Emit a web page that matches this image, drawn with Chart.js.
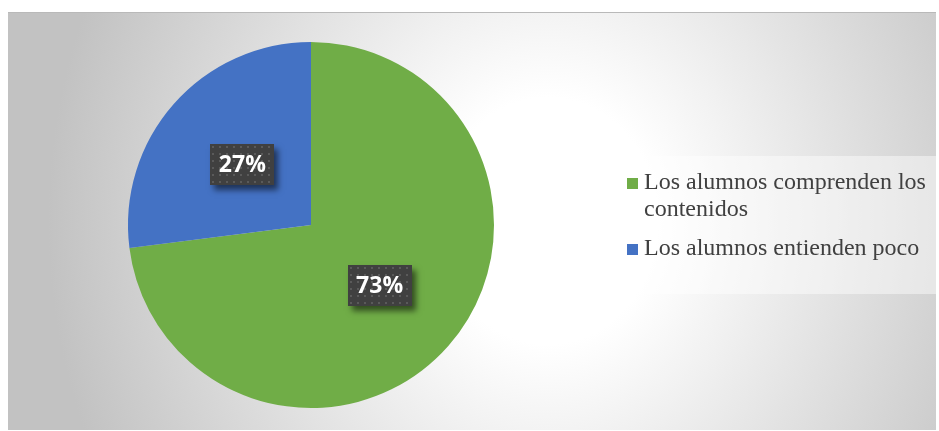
<!DOCTYPE html>
<html>
<head>
<meta charset="utf-8">
<script src="https://cdn.jsdelivr.net/npm/chart.js@4/dist/chart.umd.min.js"></script>
<style>
  html, body { margin: 0; padding: 0; background: #ffffff; }
  #wrap { position: relative; width: 939px; height: 431px; overflow: hidden; }
  #bg {
    position: absolute; left: 8px; top: 12px; width: 928px; height: 417px;
    border-top: 1px solid #b9b9b9;
    background: radial-gradient(ellipse 500px 560px at 540px 208px, #ffffff 0%, #ffffff 22%, #c2c2c2 100%);
  }
  #c { position: absolute; left: 0; top: 0; }
  #legend {
    position: absolute; left: 615px; top: 156px; width: 321px; height: 138px;
    background: rgba(255,255,255,0.45);
    font-family: "Liberation Serif", "Times New Roman", serif;
    font-size: 24px; color: #404040; box-sizing: border-box; padding: 12px 0 0 12px;
  }
  .item { position: relative; padding-left: 17px; line-height: 27px; margin-bottom: 12px; white-space: nowrap; }
  .sw { position: absolute; left: 0; top: 10px; width: 11px; height: 11px; }
</style>
</head>
<body>
<div id="wrap">
  <div id="bg"></div>
  <canvas id="c" width="939" height="431"></canvas>
  <div id="legend"></div>
</div>
<script>
const categories = ["Los alumnos comprenden los contenidos", "Los alumnos entienden poco"];
const legendLines = [["Los alumnos comprenden los", "contenidos"], ["Los alumnos entienden poco"]];
const values = [73, 27];
const valueLabels = ["73%", "27%"];
const colors = ["#70ad47", "#4472c4"];

// legend (HTML text)
const leg = document.getElementById('legend');
legendLines.forEach((lines, i) => {
  const d = document.createElement('div');
  d.className = 'item';
  const s = document.createElement('span');
  s.className = 'sw';
  s.style.background = colors[i];
  d.appendChild(s);
  lines.forEach((t, k) => {
    if (k > 0) d.appendChild(document.createElement('br'));
    d.appendChild(document.createTextNode(t));
  });
  leg.appendChild(d);
});

// dotted pattern for label boxes
function makePattern(ctx) {
  const p = document.createElement('canvas');
  p.width = 7; p.height = 7;
  const pc = p.getContext('2d');
  pc.fillStyle = '#404040';
  pc.fillRect(0, 0, 7, 7);
  pc.fillStyle = '#5a5a5a';
  pc.fillRect(2, 2, 2, 2);
  return ctx.createPattern(p, 'repeat');
}

const labelPlugin = {
  id: 'boxLabels',
  afterDatasetsDraw(chart) {
    const ctx = chart.ctx;
    const meta = chart.getDatasetMeta(0);
    const pat = makePattern(ctx);
    meta.data.forEach((arc, i) => {
      const pt = arc.getCenterPoint();
      const w = 64, h = 41;
      const x = Math.round(pt.x - w / 2), y = Math.round(pt.y - h / 2);
      ctx.save();
      ctx.shadowColor = 'rgba(0,0,0,0.55)';
      ctx.shadowBlur = 6;
      ctx.shadowOffsetX = 4;
      ctx.shadowOffsetY = 5;
      ctx.fillStyle = '#404040';
      ctx.fillRect(x, y, w, h);
      ctx.restore();
      ctx.save();
      ctx.fillStyle = pat;
      ctx.translate(x, y);
      ctx.fillRect(0, 0, w, h);
      ctx.restore();
      ctx.save();
      ctx.fillStyle = '#ffffff';
      ctx.font = 'bold 23px "Open Sans", "DejaVu Sans", sans-serif';
      ctx.textAlign = 'center';
      ctx.textBaseline = 'middle';
      ctx.fillText(valueLabels[i], pt.x, pt.y + 1);
      ctx.restore();
    });
  }
};

new Chart(document.getElementById('c'), {
  type: 'pie',
  data: {
    labels: categories,
    datasets: [{
      data: values,
      backgroundColor: colors,
      borderWidth: 0,
      hoverOffset: 0
    }]
  },
  options: {
    responsive: false,
    animation: false,
    layout: { padding: { left: 128, right: 445, top: 42, bottom: 23 } },
    plugins: {
      legend: { display: false },
      tooltip: { enabled: false }
    }
  },
  plugins: [labelPlugin]
});
</script>
</body>
</html>
